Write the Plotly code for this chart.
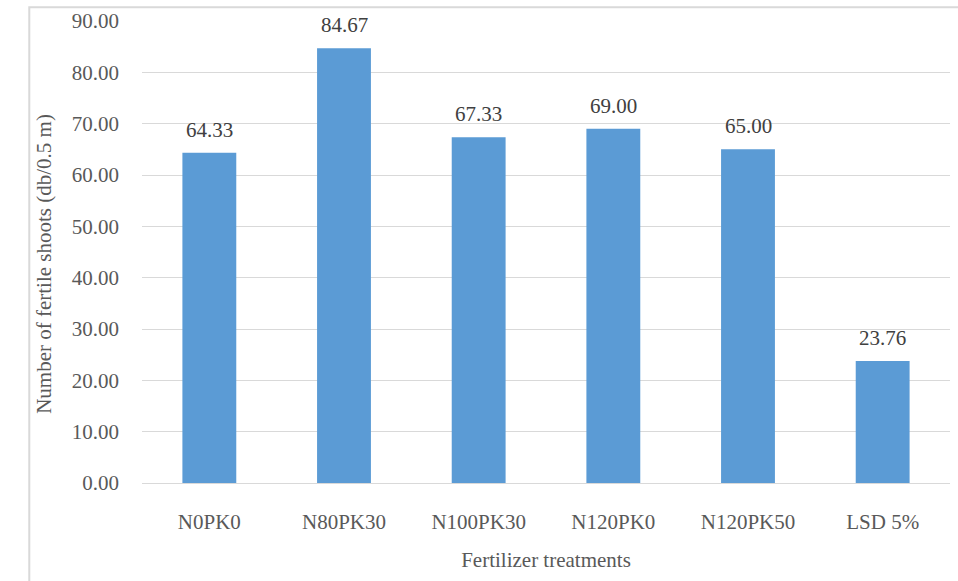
import plotly.graph_objects as go

categories = ["N0PK0", "N80PK30", "N100PK30", "N120PK0", "N120PK50", "LSD 5%"]
values = [64.33, 84.67, 67.33, 69.00, 65.00, 23.76]
tick_vals = [0, 10, 20, 30, 40, 50, 60, 70, 80, 90]
tick_text = ["%.2f" % v for v in tick_vals]
labels = ["%.2f" % v for v in values]

FONT = "Liberation Serif, Times New Roman, serif"
GRAY = "#595959"

fig = go.Figure(go.Bar(
    x=categories, y=values,
    marker=dict(color="#5B9BD5", line=dict(width=0)),
    cliponaxis=False,
))

annotations = [
    dict(x=c, y=v, text=t, xref="x", yref="y", showarrow=False,
         yanchor="bottom", yshift=9,
         font=dict(family=FONT, size=21, color="#404040"))
    for c, v, t in zip(categories, values, labels)
]
annotations.append(dict(
    text="Number of fertile shoots (db/0.5 m)", xref="paper", yref="paper",
    x=-0.1215, y=0.474, xanchor="center", yanchor="middle", textangle=-90,
    showarrow=False, font=dict(family=FONT, size=21, color=GRAY)))

fig.update_layout(
    width=958, height=581,
    margin=dict(l=142, r=8, t=21, b=98),
    paper_bgcolor="white", plot_bgcolor="white",
    bargap=0.6,
    showlegend=False,
    font=dict(family=FONT, color=GRAY),
    annotations=annotations,
    xaxis=dict(
        showgrid=False, showline=False, ticks="",
        tickfont=dict(family=FONT, size=21, color=GRAY),
        ticklabelstandoff=24,
        title=dict(text="Fertilizer treatments", font=dict(family=FONT, size=21, color=GRAY), standoff=19),
    ),
    yaxis=dict(
        range=[0, 90], tickvals=tick_vals, ticktext=tick_text,
        showgrid=True, gridcolor="#D9D9D9", gridwidth=1,
        zeroline=True, zerolinecolor="#D9D9D9", zerolinewidth=1,
        showline=False, ticks="",
        tickfont=dict(family=FONT, size=21, color=GRAY),
        ticklabelstandoff=22,
    ),
    shapes=[dict(type="rect", xref="paper", yref="paper",
                 x0=-0.1395, x1=1.05, y0=-0.3, y1=1.0295,
                 line=dict(color="#D9D9D9", width=2), fillcolor="rgba(0,0,0,0)", layer="below")],
)

fig.write_html("out.html")
